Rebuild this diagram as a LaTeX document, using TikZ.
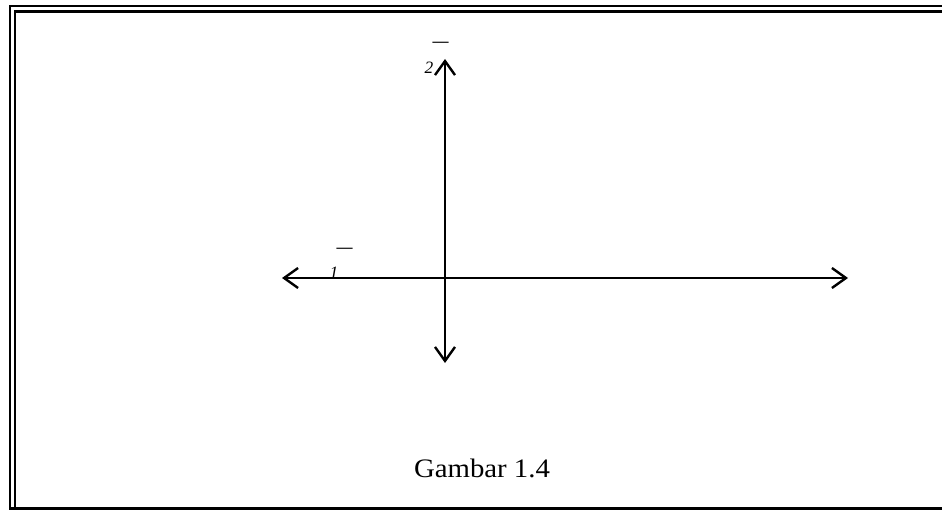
\documentclass[tikz,border=0pt]{standalone}
\usepackage{fontspec}
\setmainfont{Liberation Serif}
\usepackage{tikz}
\usetikzlibrary{
    arrows.meta,
    positioning
}

\begin{document}
\begin{tikzpicture}[
    x=0.75pt, y=-0.75pt,
    frame/.style={
        draw=black,
        line width=1.7pt
    },
    axis/.style={
        draw=black,
        line width=1.8pt,
        {Straight Barb[length=10.5pt,width=15pt]}-{Straight Barb[length=10.5pt,width=15pt]}
    },
    digit/.style={
        font=\fontsize{13}{15}\selectfont\itshape,
        inner sep=0pt
    },
    bar/.style={
        font=\fontsize{12}{14}\selectfont\bfseries,
        inner sep=0pt
    },
    caption/.style={
        font=\fontsize{20}{22}\selectfont,
        inner sep=0pt,
        anchor=base
    }
]

\clip (0,0) rectangle (942,513);
\fill[white] (0,0) rectangle (942,513);

% Frame (double on left and top)
\draw[frame] (960,6) -- (10,6) -- (10,508.5) -- (960,508.5);
\draw[frame] (960,11.5) -- (15,11.5) -- (15,508.5);

% Axes
\coordinate (O) at (445,278);
\coordinate (xl) at (282,278);
\coordinate (xr) at (848,278);
\coordinate (yt) at (445,59);
\coordinate (yb) at (445,363);

\draw[axis] (xl) -- (xr);
\draw[axis] (yb) -- (yt);

% Labels
\node[digit] (lbl2) at (429,68) {2};
\node[bar] (bar2) at (440.5,44) {—};
\node[digit] (lbl1) at (334,273) {1};
\node[bar] (bar1) at (344.5,250) {—};

% Caption
\node[caption] (cap) at (482,477) {\scalebox{1.08}[1]{Gambar 1.4}};

\end{tikzpicture}
\end{document}
